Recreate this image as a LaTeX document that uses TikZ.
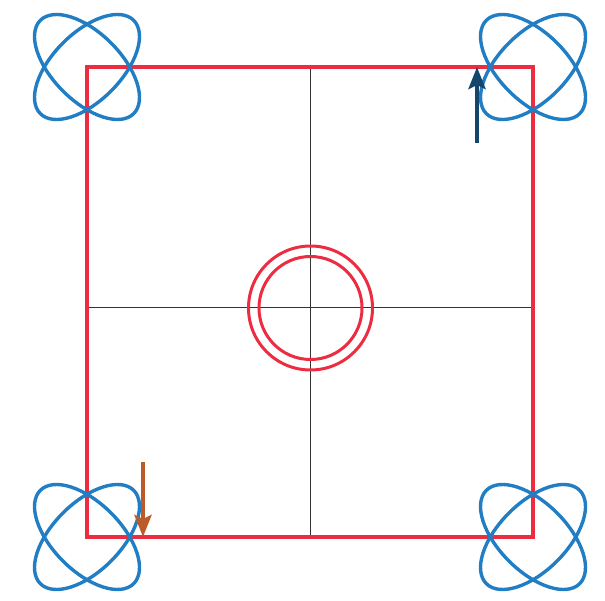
\documentclass[tikz,border=0pt]{standalone}
\usetikzlibrary{arrows.meta}
\definecolor{sqred}{RGB}{236,44,64}
\definecolor{clover}{RGB}{34,126,196}
\definecolor{darrow}{RGB}{20,70,108}
\definecolor{oarrow}{RGB}{186,92,42}
\tikzset{
  frame/.style={draw=sqred,line width=3.2pt},
  cross/.style={draw=black!80,line width=1pt},
  clov/.style={draw=clover,line width=3.4pt},
  ring/.style={draw=sqred,line width=3pt},
  upar/.style={draw=darrow,line width=4.4pt,-{Stealth[length=22pt,width=17pt,inset=4pt]}},
  dnar/.style={draw=oarrow,line width=4.4pt,-{Stealth[length=22pt,width=17pt,inset=4pt]}},
}
\begin{document}
\begin{tikzpicture}[x=1pt,y=-1pt]
\useasboundingbox (0,0) rectangle (605,601);
% crosshair
\coordinate (L) at (87,308);
\coordinate (R) at (533,308);
\coordinate (T) at (310,67);
\coordinate (B) at (310,537);
\draw[cross] (L) -- (R);
\draw[cross] (T) -- (B);
% frame
\coordinate (TL) at (87,67);
\coordinate (TR) at (533,67);
\coordinate (BL) at (87,537);
\coordinate (BR) at (533,537);
\draw[frame] (TL) rectangle (BR);
% center rings
\coordinate (C) at (310.5,308);
\draw[ring] (C) circle[radius=62];
\draw[ring] (C) circle[radius=51.5];
% clovers
\foreach \p in {TL,TR,BL,BR}{
  \draw[clov] (\p) ellipse[x radius=66,y radius=34,rotate=45];
  \draw[clov] (\p) ellipse[x radius=66,y radius=34,rotate=-45];
}
% arrows
\coordinate (UA0) at (477,143);
\coordinate (UA1) at (477,67);
\coordinate (DA0) at (143,462);
\coordinate (DA1) at (143,537);
\draw[upar] (UA0) -- (UA1);
\draw[dnar] (DA0) -- (DA1);
\end{tikzpicture}
\end{document}
